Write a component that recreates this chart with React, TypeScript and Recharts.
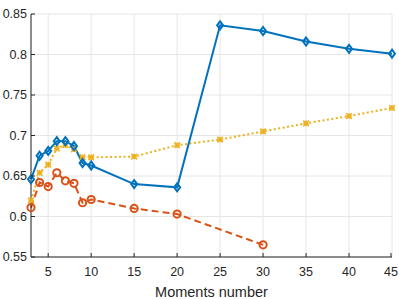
import { LineChart, Line, XAxis, YAxis, CartesianGrid, Label } from 'recharts';

const moments = [3, 4, 5, 6, 7, 8, 9, 10, 15, 20, 25, 30, 35, 40, 45];
const blueVals = [0.646, 0.675, 0.681, 0.693, 0.693, 0.687, 0.666, 0.663, 0.640, 0.636, 0.836, 0.829, 0.816, 0.807, 0.801];
const orangeVals = [0.611, 0.642, 0.637, 0.654, 0.644, 0.641, 0.617, 0.621, 0.610, 0.603, null, 0.565, null, null, null];
const yellowVals = [0.620, 0.654, 0.664, 0.684, 0.688, 0.683, 0.673, 0.673, 0.674, 0.688, 0.695, 0.705, 0.715, 0.724, 0.734];

const xTicks = [5, 10, 15, 20, 25, 30, 35, 40, 45];
const yTicks = [0.55, 0.6, 0.65, 0.7, 0.75, 0.8, 0.85];
const yLabels = ['0.55', '0.6', '0.65', '0.7', '0.75', '0.8', '0.85'];

const data = moments.map((m, i) => ({
  m,
  a: blueVals[i],
  b: orangeVals[i],
  c: yellowVals[i],
}));

const AXIS = '#262626';
const FONT = '"Liberation Sans", Arial, sans-serif';
const TL = 4;

const BottomTick = (props: any) => {
  const { x, y, payload } = props;
  return (
    <g>
      <line x1={x} x2={x} y1={y} y2={y - TL} stroke={AXIS} />
      <text x={x} y={y + 15} textAnchor="middle" dominantBaseline="central" fill={AXIS} fontSize={12.5} fontFamily={FONT}>
        {payload.value}
      </text>
    </g>
  );
};

const TopTick = (props: any) => {
  const { x, y } = props;
  return <line x1={x} x2={x} y1={y} y2={y + TL} stroke={AXIS} />;
};

const LeftTick = (props: any) => {
  const { x, y, payload } = props;
  const idx = yTicks.findIndex((t) => Math.abs(t - payload.value) < 1e-6);
  return (
    <g>
      <line x1={x} x2={x + TL} y1={y} y2={y} stroke={AXIS} />
      <text x={x - 4} y={y} textAnchor="end" dominantBaseline="central" fill={AXIS} fontSize={12.5} fontFamily={FONT}>
        {idx >= 0 ? yLabels[idx] : payload.value}
      </text>
    </g>
  );
};

const RightTick = (props: any) => {
  const { x, y } = props;
  return <line x1={x} x2={x - TL} y1={y} y2={y} stroke={AXIS} />;
};

const Diamond = (props: any) => {
  const { cx, cy } = props;
  if (cx == null || cy == null) return <g key={props.index} />;
  const r = 4;
  return (
    <path
      key={props.index}
      d={`M${cx},${cy - r}L${cx + r * 0.75},${cy}L${cx},${cy + r}L${cx - r * 0.75},${cy}Z`}
      fill="none"
      stroke="#0072BD"
      strokeWidth={2}
    />
  );
};

const Circle = (props: any) => {
  const { cx, cy } = props;
  if (cx == null || cy == null || props.value == null) return <g key={props.index} />;
  return <circle key={props.index} cx={cx} cy={cy} r={3.6} fill="none" stroke="#D95319" strokeWidth={2} />;
};

const Star = (props: any) => {
  const { cx, cy } = props;
  if (cx == null || cy == null) return <g key={props.index} />;
  const r = 2.8;
  return (
    <g key={props.index} stroke="#EDB120" strokeWidth={1.6}>
      <line x1={cx - r} x2={cx + r} y1={cy - r} y2={cy + r} />
      <line x1={cx - r} x2={cx + r} y1={cy + r} y2={cy - r} />
      <line x1={cx - r} x2={cx + r} y1={cy} y2={cy} />
      <line x1={cx} x2={cx} y1={cy - r} y2={cy + r} />
    </g>
  );
};

export default function App() {
  return (
    <div style={{ position: 'absolute', left: 0, top: 0, background: '#fff' }}>
      <LineChart width={399} height={299} data={data} margin={{ top: 14, right: 7, bottom: 0, left: 0 }}>
        <CartesianGrid stroke="#e6e6e6" strokeWidth={1} />
        <XAxis
          dataKey="m"
          type="number"
          domain={[3, 45]}
          ticks={xTicks}
          height={42}
          tickSize={0}
          tickMargin={0}
          tickLine={false}
          axisLine={{ stroke: AXIS }}
          tick={<BottomTick />}
        >
          <Label value="Moments number" position="insideBottom" offset={2} fill={AXIS} fontSize={14.5} fontFamily={FONT} />
        </XAxis>
        <XAxis
          xAxisId="top"
          orientation="top"
          dataKey="m"
          type="number"
          domain={[3, 45]}
          ticks={xTicks}
          height={0}
          tickSize={0}
          tickMargin={0}
          tickLine={false}
          axisLine={{ stroke: AXIS }}
          tick={<TopTick />}
        />
        <YAxis
          type="number"
          domain={[0.55, 0.85]}
          ticks={yTicks}
          width={31}
          tickSize={0}
          tickMargin={0}
          tickLine={false}
          axisLine={{ stroke: AXIS }}
          tick={<LeftTick />}
        />
        <YAxis
          yAxisId="right"
          orientation="right"
          type="number"
          domain={[0.55, 0.85]}
          ticks={yTicks}
          width={0}
          tickSize={0}
          tickMargin={0}
          tickLine={false}
          axisLine={{ stroke: AXIS }}
          tick={<RightTick />}
        />
        <Line dataKey="c" stroke="#EDB120" strokeWidth={2} strokeDasharray="2 2.5" dot={Star} isAnimationActive={false} />
        <Line dataKey="b" stroke="#D95319" strokeWidth={2} strokeDasharray="7 4" dot={Circle} connectNulls isAnimationActive={false} />
        <Line dataKey="a" stroke="#0072BD" strokeWidth={2} dot={Diamond} isAnimationActive={false} />
      </LineChart>
    </div>
  );
}
